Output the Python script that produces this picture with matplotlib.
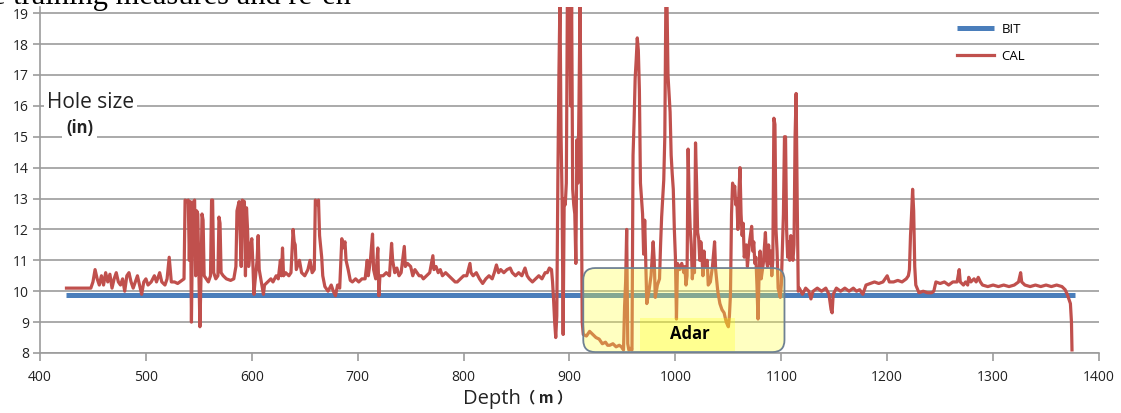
import numpy as np
import matplotlib.pyplot as plt
from matplotlib.patches import FancyBboxPatch, Rectangle

# ---- data ----
bit_depth = [425, 1377]
bit_size = [9.88, 9.88]

cal_depth = [
    425, 448, 450, 452, 454, 456, 458, 460, 462, 464, 466, 468, 470, 472, 474, 476, 478, 480,
    482, 484, 486, 488, 490, 492, 494, 496, 498, 500, 502, 505, 508, 510, 513, 515, 518, 520,
    522, 524, 527, 530, 534, 536,
    537, 539, 540, 541, 542, 543, 544, 545, 546, 547, 548, 549, 550, 551, 552, 553, 554, 555,
    557, 559, 561, 562, 563, 564, 566, 568, 569, 570, 571, 573, 576, 580, 583, 585, 586, 588,
    590, 591, 593, 594, 595, 596, 597, 599, 600, 601, 602, 603, 605, 606, 607, 609, 611, 612,
    615, 618, 620, 623, 625, 627, 628, 629, 630, 632, 635, 637, 639, 640, 641, 642, 644, 645,
    647, 650, 653, 655, 657, 659, 660, 662, 663, 664, 666, 667, 669, 672, 675, 677, 679, 681,
    683, 685, 686, 688, 689, 691, 693, 695, 698, 701, 704, 707, 708, 709, 710, 712, 714, 715,
    717, 719, 720, 721, 724, 727, 730, 732, 733, 735, 737, 739, 741, 744, 745, 747, 750, 752,
    754, 756, 758, 760, 762, 765, 768, 771, 772, 774, 776, 778, 780, 783, 786, 789, 792, 794,
    797, 800, 803, 806, 807, 809, 812, 815, 818, 821, 824, 827, 829, 831, 833, 835, 838, 841,
    844, 846, 849, 852, 855, 858, 860, 862, 865, 868, 871, 874, 877, 879, 881, 883, 884, 885,
    886, 887, 888, 889, 890, 891, 892, 893, 894, 895, 896, 897, 898, 899, 900, 901, 902, 903,
    904, 905, 906, 907, 908, 909, 910, 911, 912, 913, 916, 919, 922, 925, 928, 929, 931, 934,
    936, 938, 941, 944, 947, 949, 951, 952, 953, 954, 955, 956, 958, 959, 960, 961, 962, 963,
    964, 965, 966, 967, 968, 969, 970, 971, 972, 973, 975, 977, 979, 980, 981, 983, 985, 986,
    987, 988, 989, 990, 991, 992, 993, 995, 996, 997, 998, 999, 1000, 1001, 1002, 1004, 1006,
    1008, 1009, 1010, 1011, 1012, 1013, 1014, 1015, 1016, 1017, 1018, 1019, 1020, 1021, 1022,
    1023, 1024, 1025, 1026, 1027, 1028, 1030, 1031, 1033, 1035, 1037, 1038, 1040, 1042, 1044,
    1046, 1048, 1050, 1051, 1052, 1053, 1054, 1055, 1056, 1057, 1058, 1059, 1060, 1061, 1062,
    1063, 1064, 1065, 1067, 1068, 1070, 1072, 1073, 1074, 1075, 1076, 1077, 1078, 1079, 1080,
    1081, 1083, 1085, 1086, 1087, 1088, 1089, 1090, 1091, 1092, 1093, 1094, 1095, 1096, 1097,
    1099, 1100, 1101, 1102, 1103, 1104, 1105, 1106, 1107, 1108, 1109, 1110, 1111, 1112, 1113,
    1114, 1115, 1116, 1117, 1120, 1123, 1126, 1128, 1130, 1134, 1138, 1142, 1145, 1147, 1148,
    1149, 1152, 1156, 1160, 1164, 1168, 1171, 1174, 1177, 1180, 1184, 1188, 1192, 1196, 1200,
    1202, 1206, 1210, 1214, 1218, 1220, 1221, 1222, 1223, 1224, 1225, 1226, 1227, 1230, 1234,
    1238, 1242, 1244, 1246, 1250, 1254, 1258, 1262, 1266, 1268, 1269, 1272, 1274, 1276, 1277,
    1279, 1282, 1284, 1286, 1288, 1290, 1295, 1300, 1305, 1310, 1315, 1320, 1324, 1326, 1327,
    1330, 1335, 1340, 1345, 1350, 1355, 1360, 1365, 1368, 1370, 1372, 1373, 1374, 1374.5,
]
cal_size = [
    10.1, 10.1, 10.3, 10.7, 10.4, 10.2, 10.5, 10.2, 10.6, 10.3, 10.55, 10.1, 10.4, 10.6, 10.3, 10.2, 10.4, 10.0,
    10.5, 10.6, 10.3, 10.1, 10.3, 10.5, 10.2, 9.9, 10.3, 10.4, 10.2, 10.3, 10.5, 10.3, 10.6, 10.3, 10.2, 10.4,
    11.1, 10.3, 10.3, 10.25, 10.35, 10.4,
    12.95, 12.9, 12.95, 11.0, 12.9, 9.0, 12.0, 12.9, 12.95, 10.5, 12.6, 12.5, 10.6, 8.85, 10.4, 12.5, 12.3, 10.5,
    10.4, 10.3, 10.5, 12.95, 12.95, 10.6, 10.4, 10.5, 12.4, 12.2, 10.6, 10.5, 10.4, 10.35, 10.4, 10.8, 12.6, 12.9,
    10.8, 12.95, 12.9, 10.5, 12.7, 12.0, 10.8, 11.5, 11.7, 10.9, 9.9, 10.3, 11.0, 11.8, 10.7, 10.3, 9.9, 10.2,
    10.3, 10.4, 10.3, 10.5, 10.4, 11.0, 10.5, 11.4, 10.5, 10.6, 10.5, 10.6, 12.0, 11.6, 11.5, 10.7, 10.9, 11.0,
    10.6, 10.5, 10.7, 11.0, 10.6, 10.7, 12.95, 12.8, 12.95, 11.8, 11.1, 10.5, 10.15, 10.0, 10.2, 10.0, 9.85, 10.2,
    10.1, 11.7, 11.4, 11.6, 11.0, 10.7, 10.35, 10.3, 10.4, 10.3, 10.4, 10.4, 10.7, 11.0, 10.5, 11.0, 11.85, 10.7,
    10.4, 11.4, 9.85, 10.5, 10.5, 10.6, 10.5, 11.55, 11.0, 10.6, 10.75, 10.5, 10.6, 11.45, 10.8, 10.9, 10.8, 10.5,
    10.7, 10.6, 10.5, 10.5, 10.4, 10.5, 10.6, 11.15, 10.7, 10.8, 10.6, 10.7, 10.5, 10.6, 10.5, 10.4, 10.3, 10.3,
    10.4, 10.5, 10.5, 10.9, 10.6, 10.5, 10.6, 10.4, 10.25, 10.4, 10.5, 10.4, 10.6, 10.85, 10.6, 10.7, 10.6, 10.7,
    10.75, 10.6, 10.5, 10.6, 10.5, 10.75, 10.5, 10.4, 10.3, 10.4, 10.5, 10.4, 10.6, 10.6, 10.75, 10.7, 10.3, 9.7,
    9.0, 8.5, 9.2, 13.6, 17.0, 19.5, 15.1, 13.0, 8.6, 13.0, 12.8, 13.5, 19.5, 19.5, 19.5, 16.0, 19.5, 13.3,
    12.8, 12.5, 10.9, 14.9, 13.5, 16.2, 19.5, 14.0, 9.0, 8.6, 8.55, 8.7, 8.6, 8.5, 8.45, 8.4, 8.3, 8.35,
    8.25, 8.25, 8.3, 8.2, 8.25, 8.2, 8.1, 9.5, 10.3, 12.0, 8.3, 8.1, 8.15, 8.1, 14.4, 15.5, 16.9, 17.5,
    18.2, 17.8, 16.5, 13.5, 13.0, 12.5, 11.2, 12.3, 11.0, 9.6, 10.0, 10.5, 11.6, 11.0, 9.8, 10.2, 10.4, 11.5,
    12.4, 13.0, 13.6, 15.0, 19.5, 19.5, 17.0, 15.8, 14.4, 13.8, 13.3, 12.0, 11.1, 9.1, 10.9, 10.7, 10.9,
    10.6, 10.8, 10.2, 10.5, 14.6, 13.0, 12.0, 11.5, 10.4, 11.0, 10.6, 14.8, 13.5, 11.9, 11.7,
    11.0, 11.6, 11.2, 10.5, 11.3, 10.8, 11.0, 10.2, 10.3, 10.8, 11.6, 10.7, 10.0, 9.6, 9.4,
    9.3, 9.0, 8.85, 9.2, 9.9, 12.5, 13.5, 13.2, 13.4, 12.8, 13.0, 12.0, 13.2, 14.0, 12.5,
    11.8, 12.2, 11.1, 11.5, 10.8, 11.6, 12.1, 11.3, 11.6, 10.9, 11.1, 10.2, 9.1, 10.5, 11.3,
    10.4, 10.9, 11.9, 11.0, 10.8, 11.5, 10.9, 11.3, 10.5, 11.0, 15.6, 15.4, 12.0, 11.3, 10.1,
    9.8, 10.2, 11.3, 12.5, 15.0, 15.0, 12.0, 11.1, 11.6, 11.0, 11.8, 11.2, 11.0, 11.5, 15.0,
    16.4, 13.0, 10.0, 10.1, 9.9, 10.1, 10.0, 9.75, 10.0, 10.1, 10.0, 10.1, 9.9, 9.4, 9.3,
    9.9, 10.1, 10.0, 10.1, 10.0, 10.1, 10.0, 10.05, 9.9, 10.2, 10.25, 10.3, 10.25, 10.3, 10.5,
    10.3, 10.3, 10.35, 10.3, 10.4, 10.5, 10.7, 11.8, 12.5, 13.3, 12.6, 10.8, 10.2, 9.95, 10.0,
    9.95, 9.95, 10.0, 10.3, 10.25, 10.3, 10.2, 10.3, 10.3, 10.7, 10.3, 10.2, 10.3, 10.2, 10.45,
    10.3, 10.4, 10.3, 10.45, 10.3, 10.2, 10.15, 10.2, 10.15, 10.2, 10.15, 10.2, 10.3, 10.6, 10.3,
    10.2, 10.15, 10.2, 10.15, 10.2, 10.15, 10.2, 10.15, 10.05, 9.9, 9.7, 9.6, 9.0, 8.1,
]

x_ticks = list(range(400, 1401, 100))
y_ticks = list(range(8, 20))

zone_name = "Adar"
zone_top, zone_bottom = 10.75, 8.03
zone_left, zone_right = 913, 1103

W, H = 1121, 413

# ---- figure ----
plt.rcParams['font.family'] = ['Open Sans', 'DejaVu Sans']
fig = plt.figure(figsize=(W / 100, H / 100), dpi=100)
ax = fig.add_axes([40 / W, 1 - 353 / H, 1059 / W, (353 - 7) / H])

ax.plot(bit_depth, bit_size, color='#4a7ebb', lw=3.6, label='BIT', zorder=3, solid_capstyle='butt')
ax.plot(cal_depth, cal_size, color='#c0504d', lw=2.3, label='CAL', zorder=4)

# yellow zone drawn on top, makes the curve look orange inside
px_x = 1000 / 1059          # depth units per pixel
px_y = 11.2 / 346           # inch units per pixel
rs = 12 * px_x
asp = px_y / px_x
box = FancyBboxPatch((zone_left, zone_bottom), zone_right - zone_left, zone_top - zone_bottom,
                     boxstyle=f'round,pad=0,rounding_size={rs}', mutation_aspect=asp,
                     facecolor='#ffff40', alpha=0.32, edgecolor='none', zorder=5)
ax.add_patch(box)
edge = FancyBboxPatch((zone_left, zone_bottom), zone_right - zone_left, zone_top - zone_bottom,
                      boxstyle=f'round,pad=0,rounding_size={rs}', mutation_aspect=asp,
                      facecolor='none', edgecolor='#6f8193', lw=1.3, zorder=6)
ax.add_patch(edge)
ax.add_patch(Rectangle((967, zone_bottom + 0.02), 89, 1.08, facecolor='#ffff00', alpha=0.25,
                       edgecolor='none', zorder=5))
ax.text(1014, 8.6, zone_name, ha='center', va='center', fontsize=12, fontweight='bold',
        color='black', zorder=7)

ax.set_xlim(400, 1400)
ax.set_ylim(8, 19.2)
ax.set_xticks(x_ticks)
ax.set_yticks(y_ticks)
ax.grid(axis='y', color='#9c9c9c', lw=1.2, zorder=0)
ax.set_axisbelow(True)
for s in ['top', 'right']:
    ax.spines[s].set_visible(False)
for s in ['left', 'bottom']:
    ax.spines[s].set_color('#9c9c9c')
    ax.spines[s].set_linewidth(1.2)
ax.tick_params(axis='x', length=6, width=1.2, color='#9c9c9c', labelsize=10, pad=6, labelcolor='#222222')
ax.tick_params(axis='y', length=5, width=1.2, color='#9c9c9c', labelsize=10, pad=3, labelcolor='#222222')

ax.legend(loc='upper left', bbox_to_anchor=(945 / W, 1 - 11 / H), bbox_transform=fig.transFigure,
          frameon=False, fontsize=9.5, handlelength=2.8, labelspacing=1.05, handletextpad=0.6)

# axis titles as placed in the source image
fig.text(47 / W, 1 - 103 / H, 'Hole size', fontsize=15, color='#222222', va='center', ha='left',
         bbox=dict(facecolor='white', edgecolor='none', pad=2), zorder=8)
fig.text(66 / W, 1 - 128 / H, '(in)', fontsize=12, fontweight='bold', color='#222222',
         va='center', ha='left', bbox=dict(facecolor='white', edgecolor='none', pad=3), zorder=8)
fig.text(463 / W, 1 - 399 / H, 'Depth', fontsize=14.5, color='#222222', va='center', ha='left')
fig.text(520 / W, 1 - 397 / H, '（ m ）', fontsize=11, fontweight='bold', color='#222222',
         va='center', ha='left', family=['Noto Sans CJK SC', 'DejaVu Sans'])

# partial line of document text cut by the top edge of the image
fig.text(-8 / W, 1 - 4 / H, 'e training measures and re-en', fontsize=22, color='black',
         va='baseline', ha='left', family=['Liberation Serif', 'DejaVu Serif'])

fig.savefig('out.png', dpi=100)
